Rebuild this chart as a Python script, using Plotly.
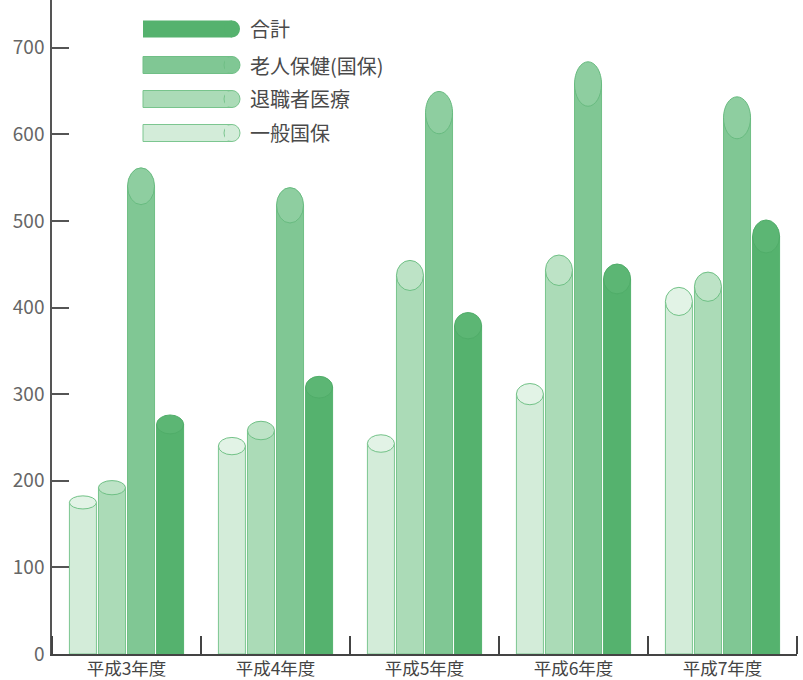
import plotly.graph_objects as go

# ---------------- data ----------------
categories = ["平成3年度", "平成4年度", "平成5年度", "平成6年度", "平成7年度"]
series_names = ["一般国保", "退職者医療", "老人保健(国保)", "合計"]
ippan = [175, 240, 243, 300, 407]
taishoku = [192, 258, 437, 443, 424]
rojin = [540, 518, 625, 658, 619]
goukei = [265, 308, 379, 433, 482]
y_tick_values = [0, 100, 200, 300, 400, 500, 600, 700]

series_values = [ippan, taishoku, rojin, goukei]

# ---------------- style ----------------
fill_colors = ["#d3ecd9", "#abdbb7", "#80c794", "#55b26e"]
line_colors = ["#7cc690", "#78c48c", "#70bf86", "#55b26e"]
cap_colors = ["#e2f3e6", "#bde3c6", "#8ecea0", "#5cb674"]
cap_lines = ["#72c287", "#6fc085", "#68bb80", "#50ad69"]

W, H = 803, 680
ML, MR, MT, MB = 52, 6, 0, 26
Y_MAX = 755
BARGAP = 0.22
BARGROUPGAP = 0.07

fig = go.Figure()
x_idx = list(range(len(categories)))
for name, vals, fc, lc in zip(series_names, series_values, fill_colors, line_colors):
    fig.add_trace(go.Bar(
        x=x_idx, y=vals, name=name,
        marker=dict(color=fc, line=dict(color=lc, width=1)),
        showlegend=False,
    ))

# cylinder caps (ellipses) derived from the data
slot = (1 - BARGAP) / len(series_names)
bar_w = slot * (1 - BARGROUPGAP)
shapes = []
for i, vals in enumerate(series_values):
    for k, v in enumerate(vals):
        cx = k - (1 - BARGAP) / 2 + slot * (i + 0.5)
        h = 0.075 * v + 2
        shapes.append(dict(
            type="circle", xref="x", yref="y",
            x0=cx - bar_w / 2, x1=cx + bar_w / 2,
            y0=v - h / 2, y1=v + h / 2,
            fillcolor=cap_colors[i], line=dict(color=cap_lines[i], width=1),
            layer="above",
        ))

# custom legend (wide cylinder swatches)
plot_w = W - ML - MR
plot_h = H - MT - MB


def xp(px):
    return (px - ML) / plot_w


def yp(py):
    return (H - MB - py) / plot_h


legend_rows = [(3, 29), (2, 65), (1, 99), (0, 133)]
annotations = []
for idx, cy in legend_rows:
    top, bot = cy - 8.5, cy + 8.5
    shapes.append(dict(
        type="rect", xref="paper", yref="paper",
        x0=xp(143), x1=xp(232), y0=yp(bot), y1=yp(top),
        fillcolor=fill_colors[idx],
        line=dict(color=line_colors[idx], width=1 if idx < 3 else 0),
        layer="above",
    ))
    shapes.append(dict(
        type="circle", xref="paper", yref="paper",
        x0=xp(224), x1=xp(240), y0=yp(bot), y1=yp(top),
        fillcolor=fill_colors[idx],
        line=dict(color=line_colors[idx], width=1 if idx < 3 else 0),
        layer="above",
    ))
    if idx < 3:
        shapes.append(dict(
            type="rect", xref="paper", yref="paper",
            x0=xp(225), x1=xp(232), y0=yp(bot - 1), y1=yp(top + 1),
            fillcolor=fill_colors[idx], line=dict(width=0), layer="above",
        ))
        shapes.append(dict(
            type="path", xref="paper", yref="paper",
            path="M {a},{b} L {c},{b} M {a},{d} L {c},{d}".format(
                a=xp(143), c=xp(232), b=yp(bot), d=yp(top)),
            line=dict(color=line_colors[idx], width=1), layer="above",
        ))
    annotations.append(dict(
        xref="paper", yref="paper", x=xp(248), y=yp(cy),
        xanchor="left", yanchor="middle", showarrow=False,
        text=series_names[idx],
        font=dict(size=20, color="#4a4a4a", family="Noto Sans CJK JP"),
    ))

fig.update_layout(
    width=W, height=H,
    margin=dict(l=ML, r=MR, t=MT, b=MB, autoexpand=False),
    paper_bgcolor="white", plot_bgcolor="white",
    barmode="group", bargap=BARGAP, bargroupgap=BARGROUPGAP,
    font=dict(family="Noto Sans CJK JP", color="#555"),
    shapes=shapes, annotations=annotations,
    showlegend=False,
)
fig.update_xaxes(
    range=[-0.5, len(categories) - 0.5], automargin=False,
    tickmode="array", tickvals=x_idx, ticktext=categories,
    ticks="", showgrid=False, zeroline=False,
    showline=True, linecolor="#444", linewidth=2,
    tickfont=dict(size=17.5, color="#444", family="Noto Sans CJK JP"),
    ticklabelstandoff=-2,
    minor=dict(ticks="inside", ticklen=18, tickwidth=1.5, tickcolor="#444",
               tickmode="array",
               tickvals=[k - 0.5 for k in range(len(categories) + 1)]),
)
fig.update_yaxes(
    range=[0, Y_MAX], automargin=False,
    tickmode="array", tickvals=y_tick_values,
    ticks="inside", ticklen=17, tickwidth=1.5, tickcolor="#555",
    showgrid=False, zeroline=False,
    showline=True, linecolor="#555", linewidth=1.5,
    tickfont=dict(size=19, color="#666", family="Noto Sans CJK JP"),
    ticklabelstandoff=2,
)

fig.write_html(
    "out.html",
    config={"displayModeBar": False},
    post_script="document.body.style.margin='0px';document.body.style.overflow='hidden';",
)
